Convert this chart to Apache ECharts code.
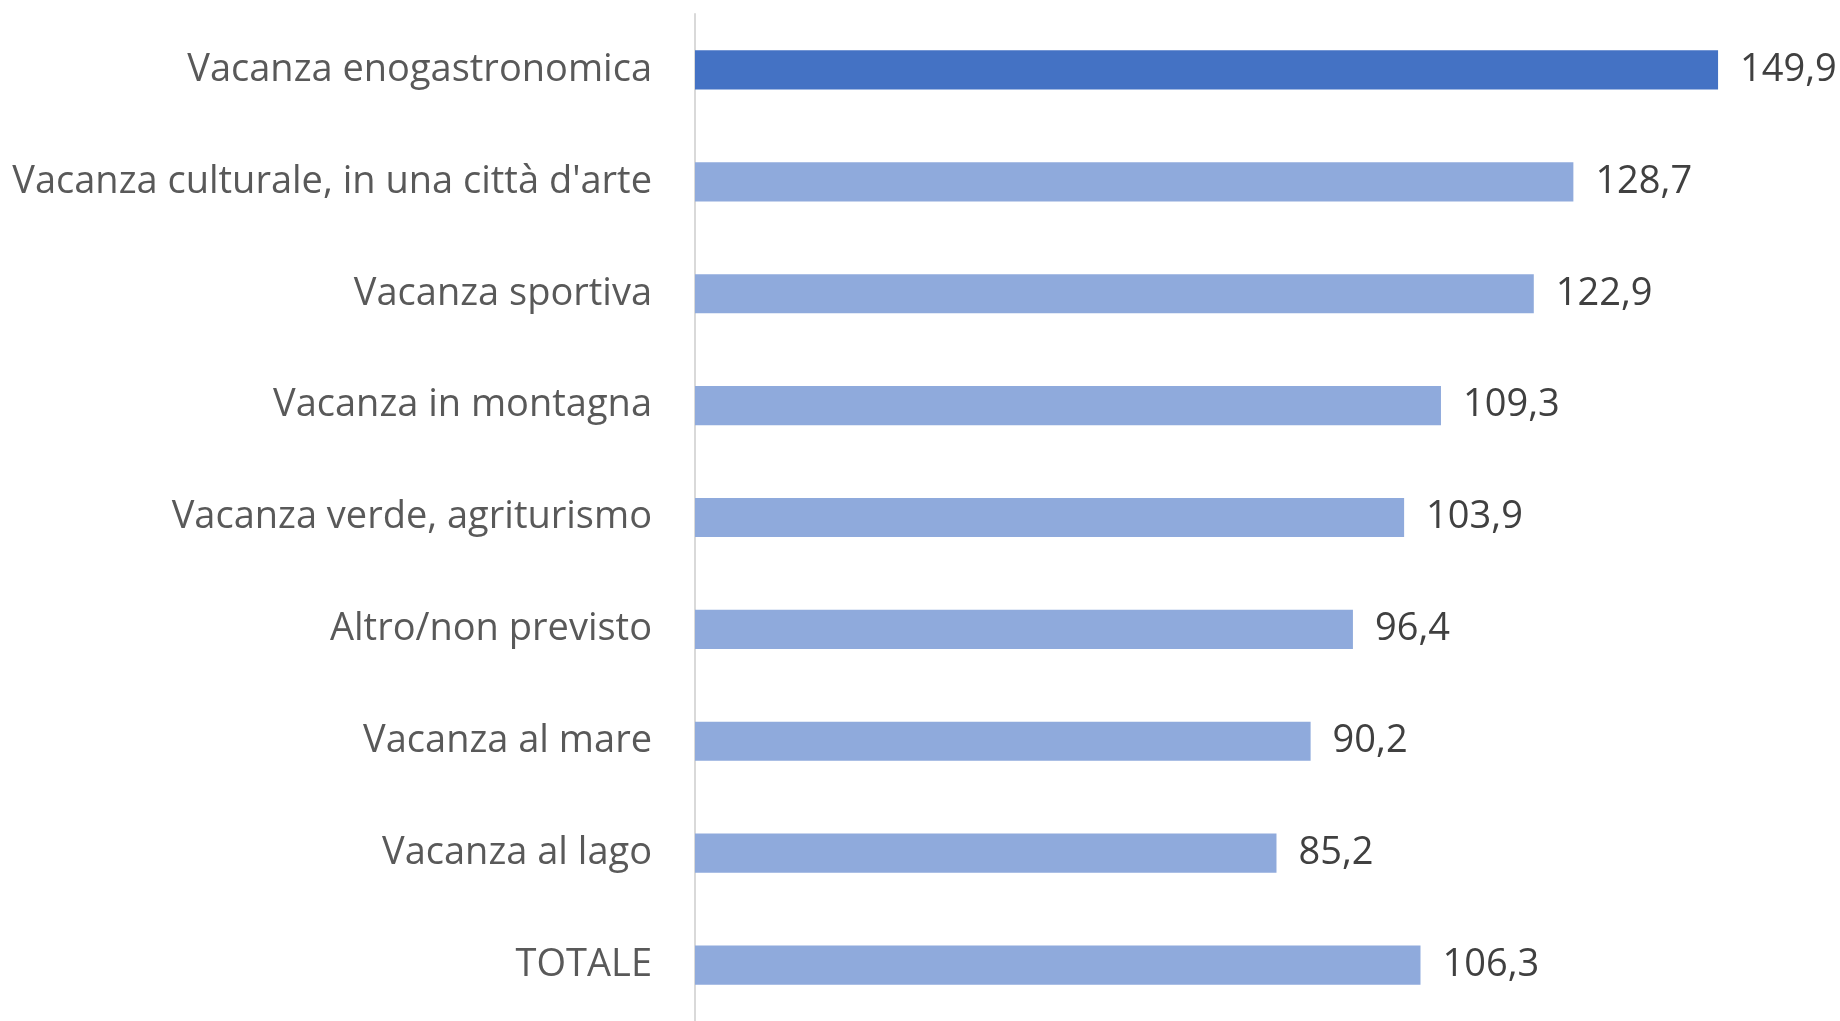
<!DOCTYPE html>
<html>
<head>
<meta charset="utf-8">
<script src="https://cdn.jsdelivr.net/npm/echarts@6/dist/echarts.min.js"></script>
<style>
  html, body { margin: 0; padding: 0; background: #fff; }
  #chart { width: 1840px; height: 1021px; }
</style>
</head>
<body>
<div id="chart"></div>
<script>
"use strict";
var categories = ['Vacanza enogastronomica', "Vacanza culturale, in una città d'arte", 'Vacanza sportiva',
    'Vacanza in montagna', 'Vacanza verde, agriturismo', 'Altro/non previsto',
    'Vacanza al mare', 'Vacanza al lago', 'TOTALE'];
var values = [149.9, 128.7, 122.9, 109.3, 103.9, 96.4, 90.2, 85.2, 106.3];
var highlightIndex = 0;

var chart = echarts.init(document.getElementById('chart'));
var option = {
    animation: false,
    grid: { left: 695, top: 14, width: 1092, height: 1014 },
    xAxis: {
        type: 'value',
        min: 0,
        max: 160,
        show: false
    },
    yAxis: {
        type: 'category',
        inverse: true,
        data: categories,
        axisLine: { show: true, lineStyle: { color: '#d9d9d9', width: 2 } },
        axisTick: { show: false },
        axisLabel: {
            margin: 43,
            color: '#595959',
            fontSize: 38,
            fontFamily: 'Open Sans',
            padding: [4, 0, 0, 0]
        }
    },
    series: [{
        type: 'bar',
        barWidth: '35%',
        data: values.map(function (v, i) {
            return {
                value: v,
                itemStyle: { color: i === highlightIndex ? '#4472c4' : '#8faadc' }
            };
        }),
        label: {
            show: true,
            position: 'right',
            distance: 22,
            color: '#404040',
            fontSize: 38,
            fontFamily: 'Open Sans',
            padding: [6, 0, 0, 0],
            formatter: function (p) { return p.value.toFixed(1).replace('.', ','); }
        }
    }]
};
chart.setOption(option);
</script>
</body>
</html>
